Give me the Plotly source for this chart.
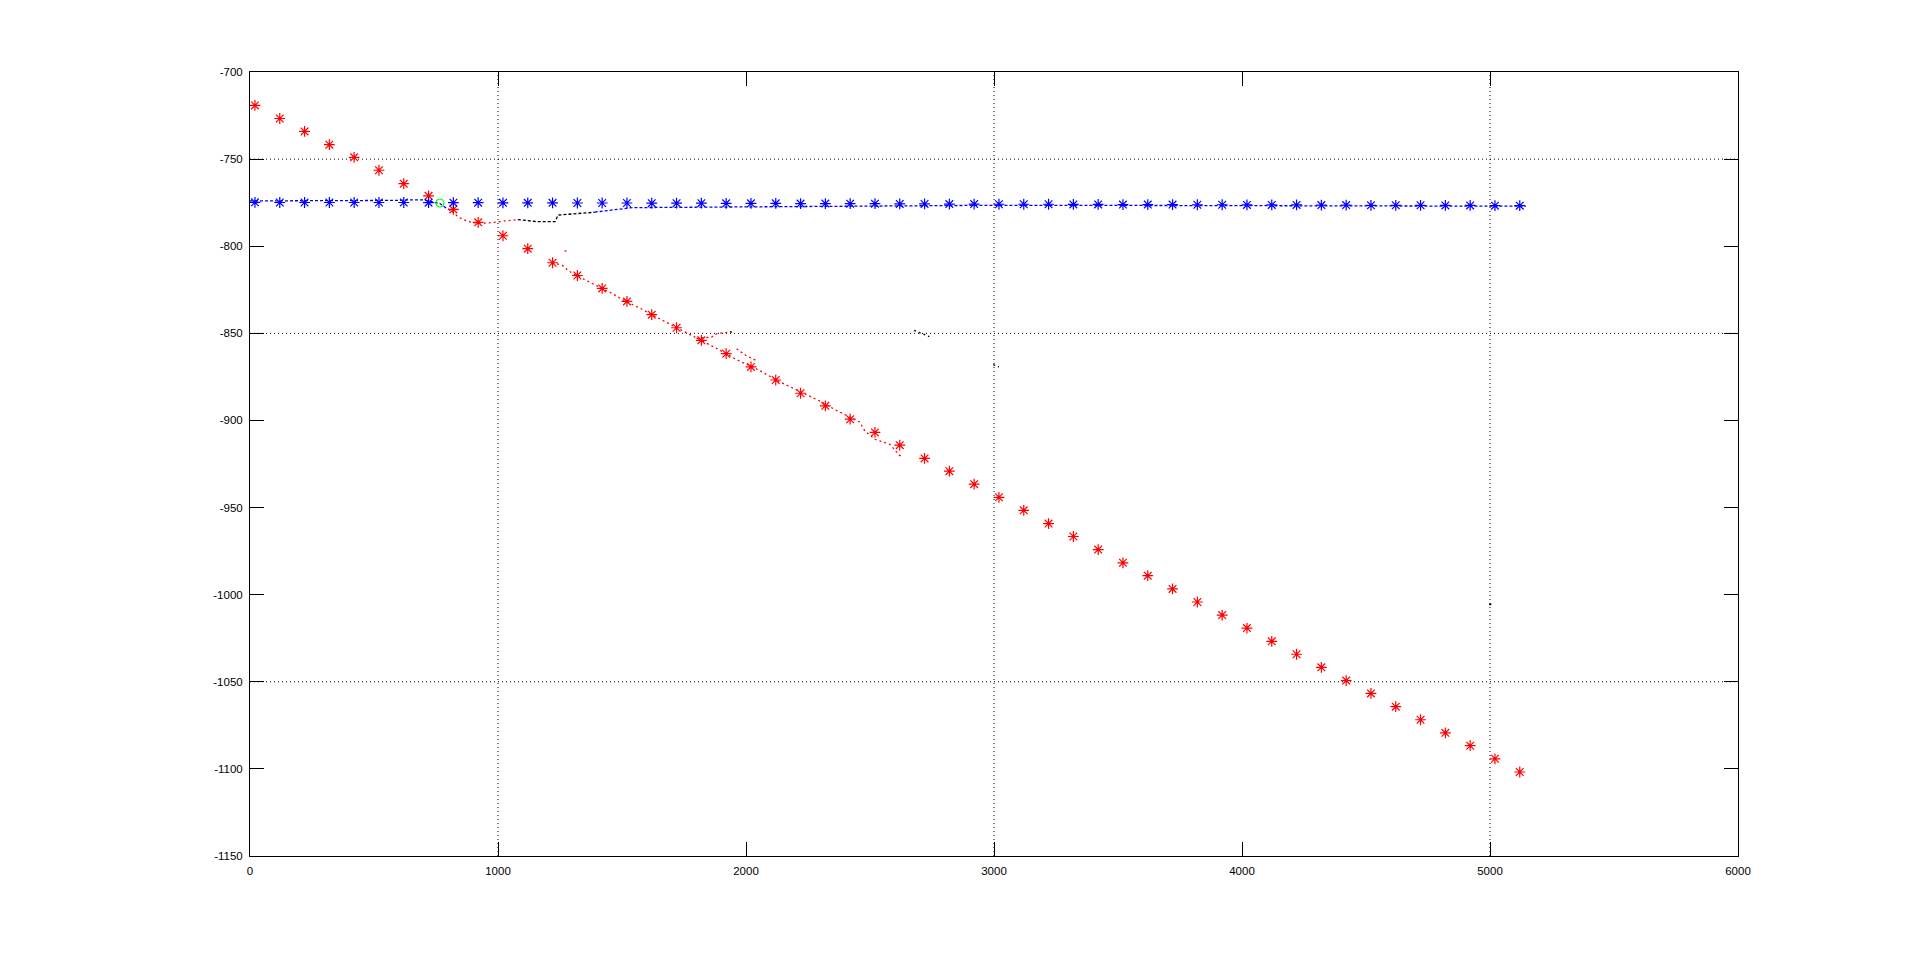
import plotly.graph_objects as go

# ---------------- data ----------------
star_x = [20, 120, 220, 320, 420, 520, 620, 720, 820, 920,
          1020, 1120, 1220, 1320, 1420, 1520, 1620, 1720, 1820, 1920,
          2020, 2120, 2220, 2320, 2420, 2520, 2620, 2720, 2820, 2920,
          3020, 3120, 3220, 3320, 3420, 3520, 3620, 3720, 3820, 3920,
          4020, 4120, 4220, 4320, 4420, 4520, 4620, 4720, 4820, 4920,
          5020, 5120]

red_star_y = [-719.2, -726.7, -734.1, -741.7, -749.0, -756.4, -764.1, -771.1, -778.9, -786.3,
              -794.0, -801.4, -809.5, -816.8, -824.2, -831.7, -839.3, -846.8, -854.0, -861.7,
              -869.3, -876.8, -884.4, -891.6, -899.3, -906.9, -914.2, -921.8, -929.1, -936.6,
              -944.1, -951.6, -959.2, -966.6, -974.1, -981.7, -989.1, -996.7, -1004.2, -1011.7,
              -1019.2, -1026.8, -1034.2, -1041.7, -1049.3, -1056.7, -1064.3, -1071.8, -1079.3, -1086.7,
              -1094.2, -1101.8]

blue_star_y = [-774.8, -774.9, -774.9, -774.9, -774.9, -774.9, -774.9, -775.0, -775.0, -775.0,
               -775.1, -775.1, -775.1, -775.2, -775.2, -775.2, -775.3, -775.3, -775.3, -775.4,
               -775.4, -775.4, -775.5, -775.5, -775.6, -775.6, -775.7, -775.7, -775.8, -775.8,
               -775.9, -775.9, -775.9, -776.0, -776.0, -776.1, -776.1, -776.1, -776.2, -776.2,
               -776.3, -776.3, -776.3, -776.4, -776.4, -776.5, -776.5, -776.5, -776.6, -776.6,
               -776.7, -776.7]

# estimated tracks
blue_trk1_x = [0, 100, 200, 300, 400, 500, 600, 640, 700, 730, 766, 790, 815]
blue_trk1_y = [-774.0, -774.0, -774.0, -773.9, -773.9, -773.8, -773.7, -773.4, -773.4, -774.3, -775.5, -778.0, -780.0]

red_trk1_x = [815, 840, 870, 900, 920, 960, 1000, 1040, 1080]
red_trk1_y = [-780.0, -783.3, -785.3, -786.5, -786.8, -786.7, -786.0, -785.3, -784.7]

black_trk1_x = [1080, 1110, 1150, 1190, 1230, 1242, 1280, 1323, 1360, 1390]
black_trk1_y = [-784.7, -785.3, -785.8, -785.9, -785.9, -782.1, -781.7, -781.4, -781.0, -780.5]

blue_trk2_x = [1390, 1430, 1470, 1505, 1545, 1600, 1700, 1800, 1900, 2000, 2200, 2400, 2600,
               2800, 3000, 3200, 3400, 3600, 3800, 4000, 4200, 4400, 4600, 4800, 5000, 5145]
blue_trk2_y = [-780.4, -779.8, -779.0, -778.5, -777.8, -777.8, -777.7, -777.6, -777.5, -777.3, -776.9, -776.7, -776.6,
               -776.5, -776.5, -776.5, -776.6, -776.6, -776.7, -776.7, -776.8, -776.8, -776.9, -776.9, -777.0, -777.0]

red_trk2_x = [1219, 1259, 1281, 1300, 1340, 1380, 1420, 1460, 1500, 1540, 1581, 1620, 1660, 1700,
              1740, 1781, 1820, 1862, 1902, 1922, 1960, 2000, 2039, 2079, 2133, 2180, 2240, 2301,
              2361, 2400, 2458, 2480, 2520, 2560, 2581, 2618, 2630]
red_trk2_y = [-809.5, -810.9, -813.7, -815.5, -818.5, -821.3, -824.2, -827.1, -830.5, -833.2, -836.2, -839.3, -842.3, -845.3,
              -848.3, -851.5, -854.0, -857.2, -860.4, -861.7, -865.0, -867.5, -870.1, -873.3, -877.6, -880.8, -885.0, -889.1,
              -894.0, -896.6, -900.9, -906.2, -910.8, -912.7, -913.8, -919.9, -920.8]

red_branch_x = [1800, 1862, 1882, 1902, 1922, 1935]
red_branch_y = [-852.9, -852.1, -850.2, -849.8, -849.1, -849.2]

red_bit1_x = [1268, 1286]
red_bit1_y = [-802.8, -802.6]

red_bit2_x = [1962, 2000, 2040]
red_bit2_y = [-858.9, -862.7, -865.5]

black_bit1_x = [1935, 1952]
black_bit1_y = [-849.2, -849.3]

black_bit2_x = [2678, 2699, 2719, 2739]
black_bit2_y = [-848.3, -849.6, -850.6, -851.9]

black_bit3_x = [2997, 3020]
black_bit3_y = [-868.0, -869.3]

black_dot_x = [5001]
black_dot_y = [-1005.5]

green_x = [766]
green_y = [-775.2]

x_ticks = [0, 1000, 2000, 3000, 4000, 5000, 6000]
y_ticks = [-1150, -1100, -1050, -1000, -950, -900, -850, -800, -750, -700]
grid_x_visible = [1000, 3000, 5000]
grid_y_visible = [-750, -850, -1050]

# ---------------- figure ----------------
fig = go.Figure()

DOT = "2px,3px"

def track(x, y, color, dash=DOT, width=1.3):
    fig.add_trace(go.Scatter(x=x, y=y, mode="lines",
                             line=dict(color=color, width=width, dash=dash),
                             hoverinfo="skip", showlegend=False))

track(blue_trk1_x, blue_trk1_y, "#0000ff", "3px,2px")
track(red_trk1_x, red_trk1_y, "#ff0000")
track(black_trk1_x, black_trk1_y, "#000000", "3px,2px")
track(blue_trk2_x, blue_trk2_y, "#0000ff", "3px,2px")
track(red_trk2_x, red_trk2_y, "#ff0000")
track(red_branch_x, red_branch_y, "#ff0000")
track(red_bit1_x, red_bit1_y, "#ff0000")
track(red_bit2_x, red_bit2_y, "#ff0000")
track(black_bit1_x, black_bit1_y, "#000000")
track(black_bit2_x, black_bit2_y, "#000000")
track(black_bit3_x, black_bit3_y, "#000000")

fig.add_trace(go.Scatter(x=black_dot_x, y=black_dot_y, mode="markers",
                         marker=dict(symbol="square", size=2, color="#000000"),
                         showlegend=False, hoverinfo="skip"))

fig.add_trace(go.Scatter(x=star_x, y=red_star_y, mode="markers",
                         marker=dict(symbol="asterisk-open", size=9, color="#ff0000",
                                     line=dict(color="#ff0000", width=1.2)),
                         showlegend=False))
fig.add_trace(go.Scatter(x=star_x, y=blue_star_y, mode="markers",
                         marker=dict(symbol="asterisk-open", size=9, color="#0000ff",
                                     line=dict(color="#0000ff", width=1.2)),
                         showlegend=False))
fig.add_trace(go.Scatter(x=green_x, y=green_y, mode="markers",
                         marker=dict(symbol="circle-open", size=8, color="#00ff00",
                                     line=dict(color="#00ff00", width=1.2)),
                         showlegend=False))

shapes = []
for gx in grid_x_visible:
    shapes.append(dict(type="line", xref="x", yref="paper", x0=gx, x1=gx, y0=0, y1=1,
                       line=dict(color="#000000", width=1, dash="1px,3px"), layer="below"))
for gy in grid_y_visible:
    shapes.append(dict(type="line", xref="paper", yref="y", x0=0, x1=1, y0=gy, y1=gy,
                       line=dict(color="#000000", width=1, dash="1px,3px"), layer="below"))

axis_font = dict(family="Liberation Sans, Arial, sans-serif", size=11.5, color="#000000")

fig.update_layout(
    width=1919, height=962,
    margin=dict(l=250, r=181, t=72, b=106, pad=0),
    paper_bgcolor="#ffffff", plot_bgcolor="#ffffff",
    shapes=shapes,
    xaxis=dict(range=[0, 6000], tickmode="array", tickvals=x_ticks,
               ticktext=[str(v) for v in x_ticks],
               showgrid=False, zeroline=False, showline=True, linecolor="#000000", linewidth=1,
               mirror="ticks", ticks="inside", ticklen=14, tickcolor="#000000", tickwidth=1,
               tickfont=axis_font, ticklabelstandoff=4),
    yaxis=dict(range=[-1150, -700], tickmode="array", tickvals=y_ticks,
               ticktext=[str(v) for v in y_ticks],
               showgrid=False, zeroline=False, showline=True, linecolor="#000000", linewidth=1,
               mirror="ticks", ticks="inside", ticklen=14, tickcolor="#000000", tickwidth=1,
               tickfont=axis_font, ticklabelstandoff=4),
    hovermode=False,
)

fig.write_html("out.html", config={"displayModeBar": False},
               post_script="document.body.style.margin='0';document.body.style.overflow='hidden';")
